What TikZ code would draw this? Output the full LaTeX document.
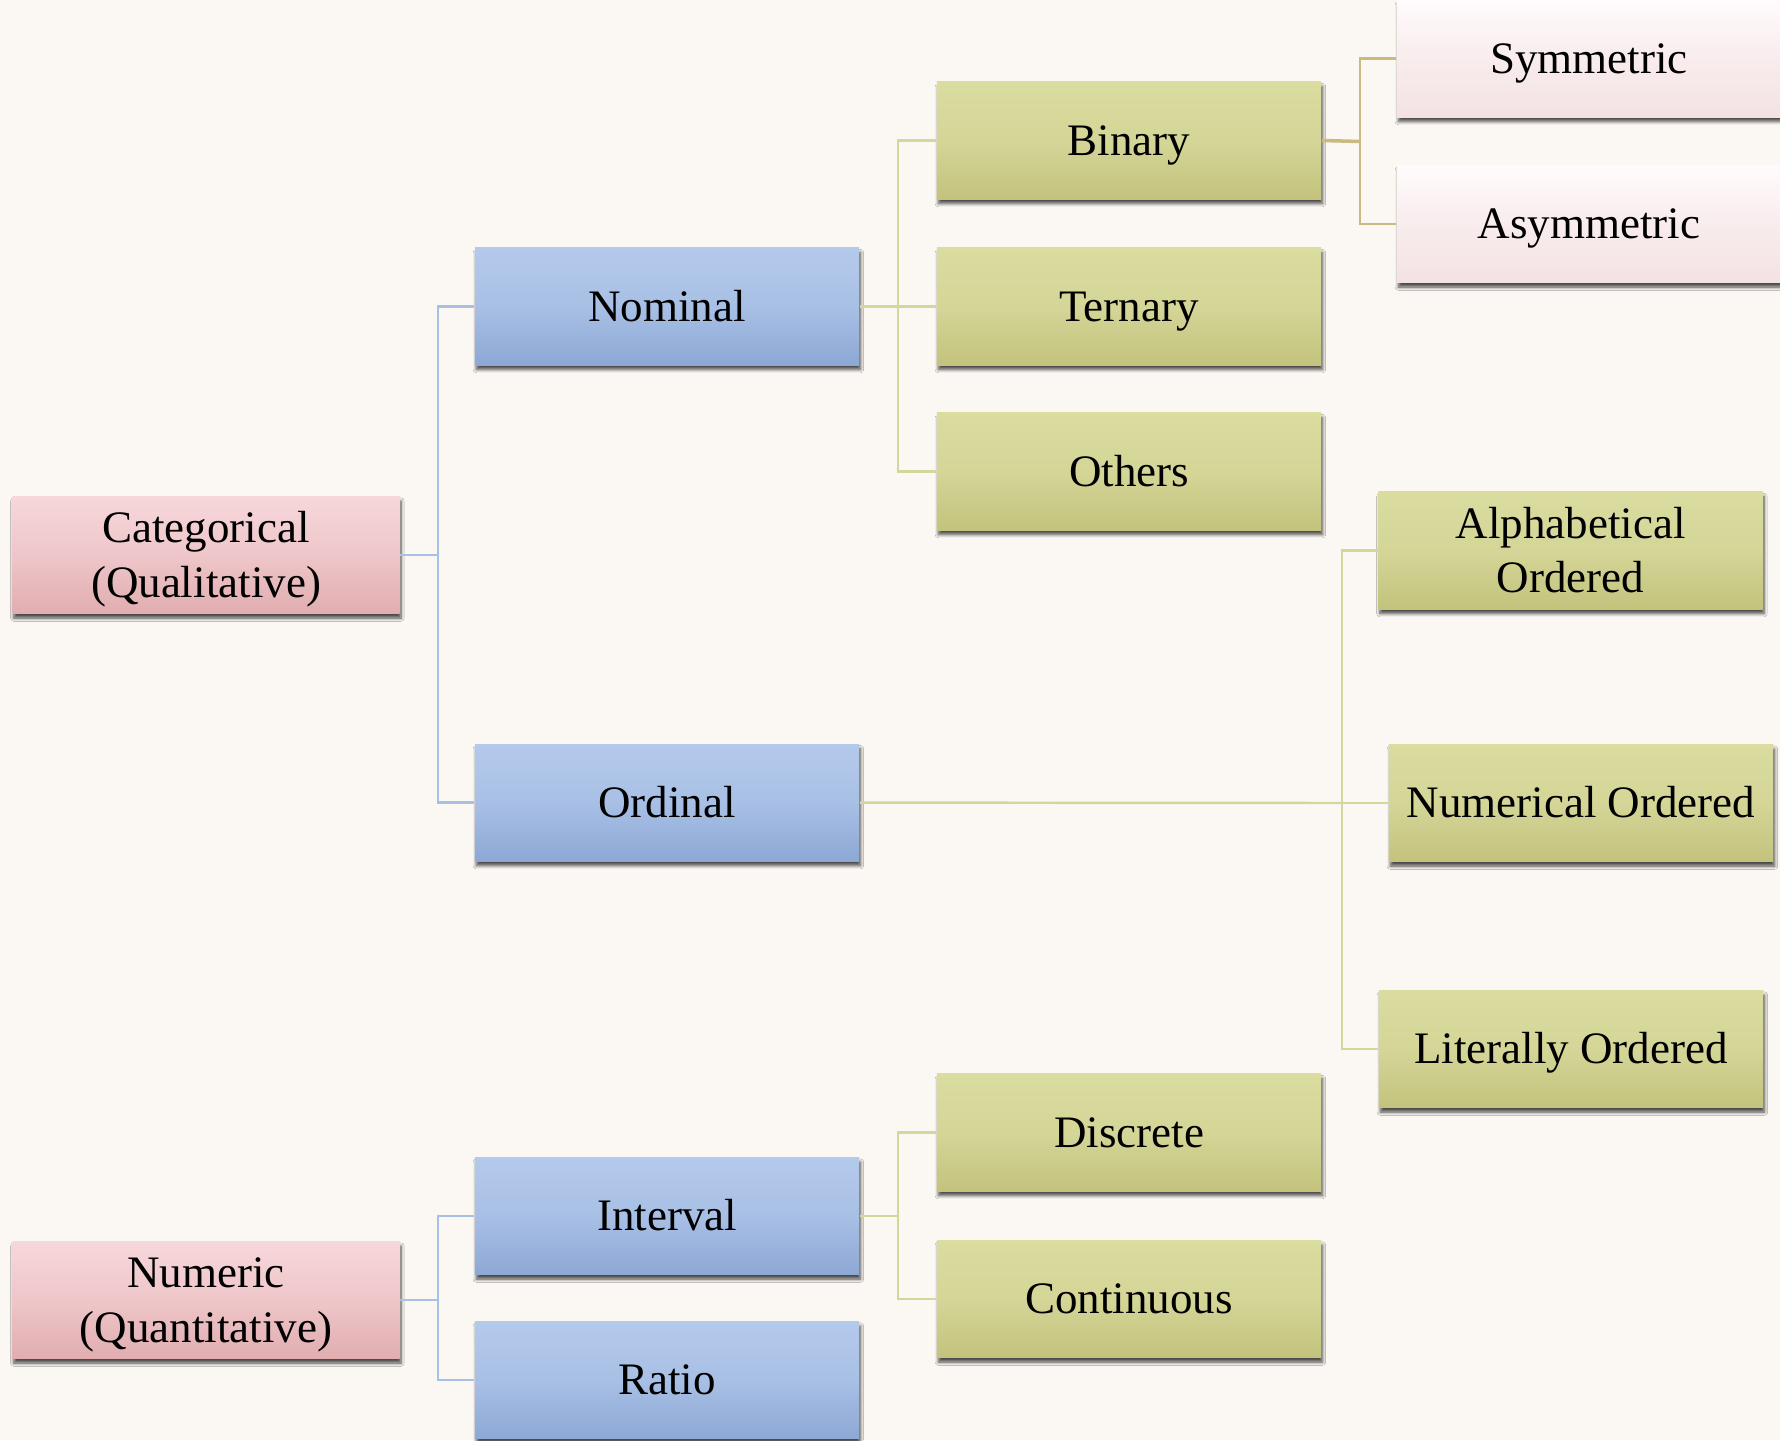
\documentclass[tikz,border=0pt]{standalone}
\usepackage{fontspec}
\setmainfont{Liberation Serif}
\usetikzlibrary{shadows.blur}
\definecolor{bgcream}{HTML}{FBF8F3}
\definecolor{pinktop}{HTML}{F7D7DA}
\definecolor{pinkbot}{HTML}{E1ADB0}
\definecolor{bluetop}{HTML}{B4CAEC}
\definecolor{bluebot}{HTML}{8DA8D5}
\definecolor{greentop}{HTML}{DADCA0}
\definecolor{greenbot}{HTML}{C3C37D}
\definecolor{palepinktop}{HTML}{FFFBFC}
\definecolor{palepinkbot}{HTML}{F4E2E3}
\definecolor{blueline}{HTML}{A8C0E6}
\definecolor{greenline}{HTML}{D4D79C}
\definecolor{tanline}{HTML}{C9BA80}
\tikzset{
  box/.style={rectangle, minimum width=3.84cm, minimum height=1.17cm,
    inner sep=0pt, align=center, font=\fontsize{12.8}{15.6}\selectfont,
    text height=8.5pt, text depth=0pt,
    blur shadow={shadow xshift=0.4pt, shadow yshift=-1.3pt,
      shadow blur radius=0.9pt, shadow blur steps=6, shadow opacity=70}},
  twolines/.style={text height=24.1pt},
  catbox/.style={box, top color=pinktop, bottom color=pinkbot, middle color=pinktop!60!pinkbot, minimum width=3.87cm},
  levelbox/.style={box, top color=bluetop, bottom color=bluebot, middle color=bluetop!70!bluebot},
  leafbox/.style={box, top color=greentop, bottom color=greenbot, middle color=greentop!75!greenbot},
  palebox/.style={box, top color=palepinktop, bottom color=palepinkbot, middle color=palepinktop!40!palepinkbot},
  bconn/.style={draw=blueline, line width=0.7pt},
  gconn/.style={draw=greenline, line width=0.7pt},
  tconn/.style={draw=tanline, line width=0.7pt},
}
\begin{document}
\begin{tikzpicture}[x=0.01cm, y=-0.01cm]
  \fill[bgcream] (0,0) rectangle (1780,1440);
  \useasboundingbox (0,0) rectangle (1780,1440);
  \clip (0,0) rectangle (1780,1440);

  % top level
  \node[catbox, twolines] (cat) at (206,555) {Categorical\\(Qualitative)};
  \node[catbox, twolines] (num) at (206,1300) {Numeric\\(Quantitative)};

  % measurement levels
  \node[levelbox] (nom) at (667,306.5) {Nominal};
  \node[levelbox] (ord) at (667,802.6) {Ordinal};
  \node[levelbox] (intv) at (667,1216) {Interval};
  \node[levelbox] (ratio) at (667,1380) {Ratio};

  % nominal subtypes
  \node[leafbox] (bin) at (1129,140.5) {Binary};
  \node[leafbox] (ter) at (1129,306.5) {Ternary};
  \node[leafbox] (oth) at (1129,471.5) {Others};

  % interval subtypes
  \node[leafbox] (disc) at (1129,1132.5) {Discrete};
  \node[leafbox] (cont) at (1129,1299) {Continuous};

  % binary subtypes
  \node[palebox] (sym) at (1589,58.5) {Symmetric};
  \node[palebox] (asym) at (1589,224) {Asymmetric};

  % ordinal subtypes
  \node[leafbox, twolines] (alpha) at (1570.5,550.5) {Alphabetical\\Ordered};
  \node[leafbox] (numo) at (1581,803) {Numerical Ordered};
  \node[leafbox] (lit) at (1571,1049) {Literally Ordered};

  % junction points
  \coordinate (jc) at (438,555);
  \coordinate (jq) at (438,1300);
  \coordinate (jn) at (898,306.5);
  \coordinate (ji) at (898,1216);
  \coordinate (jb) at (1360,141.5);
  \coordinate (jo) at (1342,803);

  % connectors
  \draw[bconn] (cat.east) -- (jc);
  \draw[bconn] (nom.west) -| (jc) |- (ord.west);
  \draw[bconn] (num.east) -- (jq);
  \draw[bconn] (intv.west) -| (jq) |- (ratio.west);

  \draw[gconn] (nom.east) -- (ter.west);
  \draw[gconn] (bin.west) -| (jn) |- (oth.west);
  \draw[gconn] (intv.east) -- (ji);
  \draw[gconn] (disc.west) -| (ji) |- (cont.west);

  \draw[gconn] (ord.east) -- (jo);
  \draw[gconn] (alpha.west) -| (jo) |- (lit.west);
  \draw[gconn] (jo) -- (numo.west);

  \draw[tconn, line width=1pt] (bin.east) -- (jb);
  \draw[tconn] (sym.west) -| (jb) |- (asym.west);
\end{tikzpicture}
\end{document}
